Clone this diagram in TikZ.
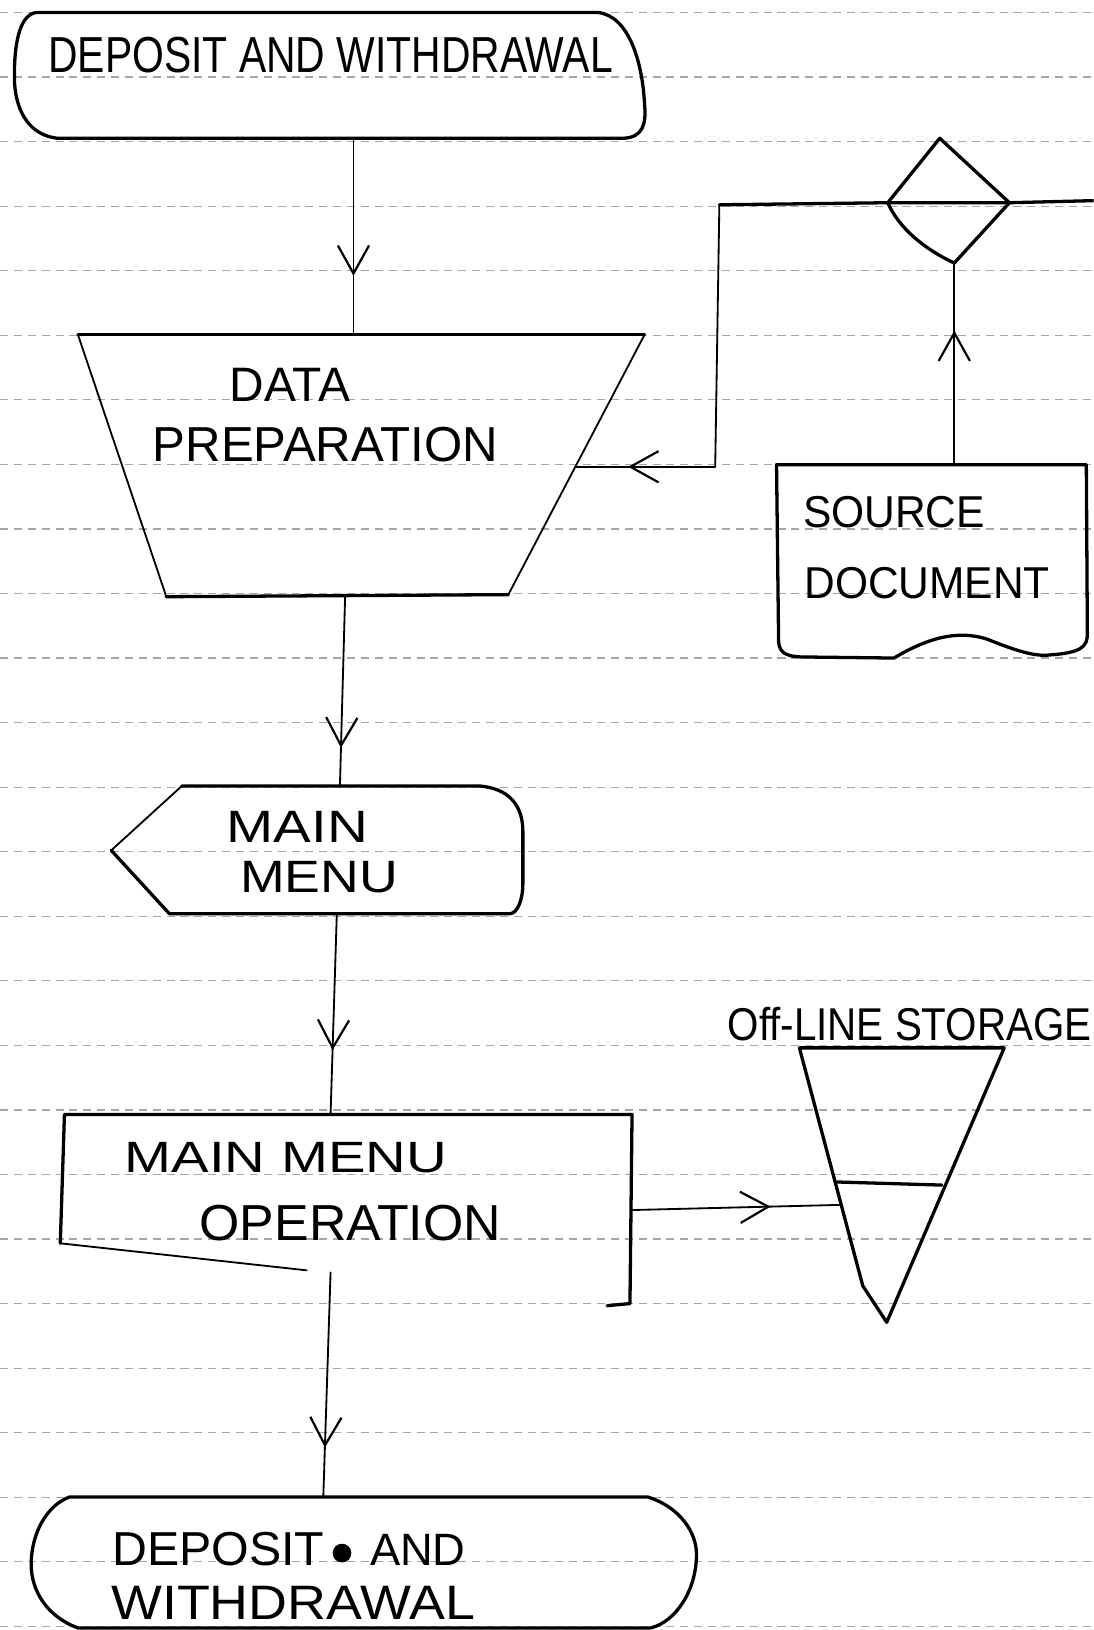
\documentclass[tikz,border=0pt]{standalone}
\usepackage{fontspec}
\setmainfont{Liberation Sans}
\usepackage{graphicx}
\usetikzlibrary{arrows.meta,decorations.markings}
% lettering squeezed into a measured box: width, height (mm), text
\newcommand{\hand}[3]{\resizebox{#1mm}{#2mm}{#3}}

\begin{document}
\begin{tikzpicture}[x=0.1mm,y=-0.1mm,
  ink/.style={line width=0.9pt, line join=round, line cap=round},
  thinink/.style={line width=0.5pt, line join=round, line cap=round},
  rule/.style={black!35, line width=0.35pt, dash pattern=on 2.2pt off 1.6pt},
  flow/.style={line width=0.5pt, line cap=round, postaction={decorate},
    decoration={markings, mark=at position #1 with
      {\arrow{Straight Barb[length=2.7mm,width=3mm,line width=0.6pt]}}}},
  lbl/.style={inner sep=0pt, anchor=center}
]
\useasboundingbox (0,0) rectangle (1052,1568);
\clip (0,0) rectangle (1052,1568);

% ruled paper
\foreach \k in {0,...,25}
  \draw[rule] (0,{12+62.1*\k}) -- (1052,{12+62.1*\k});

% ---- start terminal
\draw[ink] (35,12) -- (575,12) .. controls (605,15) and (618,60) .. (620,100)
  .. controls (622,120) and (618,132) .. (600,133) -- (55,133)
  .. controls (30,130) and (16,110) .. (14,80)
  .. controls (13,45) and (18,14) .. (35,12) -- cycle;
\node[lbl] (startT) at (318,53) {\hand{54.3}{3.4}{DEPOSIT AND WITHDRAWAL}};

% ---- data preparation (manual operation)
\draw[ink] (75,322) -- (620,322);
\draw[thinink] (620,322) -- (489,572);
\draw[ink] (489,572) -- (160,574);
\draw[thinink] (160,574) -- (75,322);
\node[lbl] (prepA) at (279,370) {\hand{11.6}{3.2}{DATA}};
\node[lbl] (prepB) at (313,428) {\hand{33.2}{3.3}{PREPARATION}};

% ---- source document
\draw[ink] (749,618) -- (747,447) -- (1045,447) -- (1046,610)
  .. controls (1046,622) and (1040,628) .. (1010,630)
  .. controls (995,632) and (975,625) .. (950,615)
  .. controls (920,605) and (890,615) .. (860,633)
  -- (775,632) .. controls (760,632) and (750,630) .. (749,618);
\node[lbl] (srcA) at (860,493) {\hand{17.5}{3.0}{SOURCE}};
\node[lbl] (srcB) at (892,561) {\hand{23.6}{3.0}{DOCUMENT}};

% ---- decision
\draw[ink] (904,133) -- (971,195) -- (918,253)
  .. controls (890,240) and (865,220) .. (854,195) -- cycle;

% ---- main menu (display)
\draw[thinink] (107,818) -- (175,756);
\draw[ink] (175,756) -- (460,756) .. controls (490,758) and (503,775) .. (503,800)
  -- (503,850) .. controls (503,865) and (498,879) .. (490,879) -- (163,879)
  -- (107,818);
\node[lbl] (menuA) at (286,795) {\hand{13.6}{3.0}{MAIN}};
\node[lbl] (menuB) at (307,844) {\hand{15.2}{3.0}{MENU}};

% ---- main menu operation (process)
\draw[ink] (58,1196) -- (62,1072) -- (608,1072) -- (606,1254) -- (584,1256);
\draw[thinink] (58,1196) -- (295,1222);
\node[lbl] (opA) at (275,1114) {\hand{31.0}{2.9}{MAIN MENU}};
\node[lbl] (opB) at (337,1177) {\hand{29.0}{3.4}{OPERATION}};

% ---- off-line storage
\draw[ink] (769,1008) -- (966,1008) -- (853,1272) -- (830,1237) -- cycle;
\draw[ink] (805,1137) -- (906,1140);
\node[lbl] (storeL) at (875,985) {\hand{35.0}{3.2}{Off-LINE STORAGE}};

% ---- end terminal
\draw[ink] (67,1440) -- (623,1440) .. controls (655,1450) and (670,1475) .. (670,1495)
  .. controls (670,1530) and (650,1560) .. (626,1566) -- (75,1566)
  .. controls (45,1555) and (30,1530) .. (30,1505)
  .. controls (30,1475) and (45,1448) .. (67,1440) -- cycle;
\node[lbl] (endA) at (210,1490) {\hand{20.4}{3.2}{DEPOSIT}};
\fill (329,1494) circle (9);
\node[lbl] (endB) at (402,1491) {\hand{9.2}{3.0}{AND}};
\node[lbl] (endC) at (282,1542) {\hand{35.0}{3.2}{WITHDRAWAL}};

% ---- connector end points
\coordinate (startB) at (340,133);
\coordinate (prepT)  at (340,322);
\coordinate (prepBt) at (332,573);
\coordinate (menuT)  at (327,756);
\coordinate (menuBt) at (324,879);
\coordinate (opT)    at (318,1072);
\coordinate (opBt)   at (318,1224);
\coordinate (endT)   at (311,1440);
\coordinate (srcT)   at (918,447);
\coordinate (decB)   at (918,253);
\coordinate (decL)   at (854,195);
\coordinate (decR)   at (971,195);
\coordinate (loopA)  at (692,197);
\coordinate (loopB)  at (688,449);
\coordinate (edgeR)  at (1052,193);
\coordinate (prepR)  at (553,449);
\coordinate (opR)    at (608,1164);
\coordinate (storeS) at (810,1159);

% ---- flow lines
\draw[flow=0.70] (startB) -- (prepT);
\draw[flow=0.80] (prepBt) -- (menuT);
\draw[flow=0.68] (menuBt) -- (opT);
\draw[flow=0.78] (opBt) -- (endT);
\draw[flow=0.665] (srcT) -- (decB);
\draw[ink] (loopA) -- (decL) -- (decR) -- (edgeR);
\draw[thinink] (loopA) -- (loopB);
\draw[flow=0.62] (loopB) -- (prepR);
\draw[flow=0.66] (opR) -- (storeS);
\end{tikzpicture}
\end{document}
